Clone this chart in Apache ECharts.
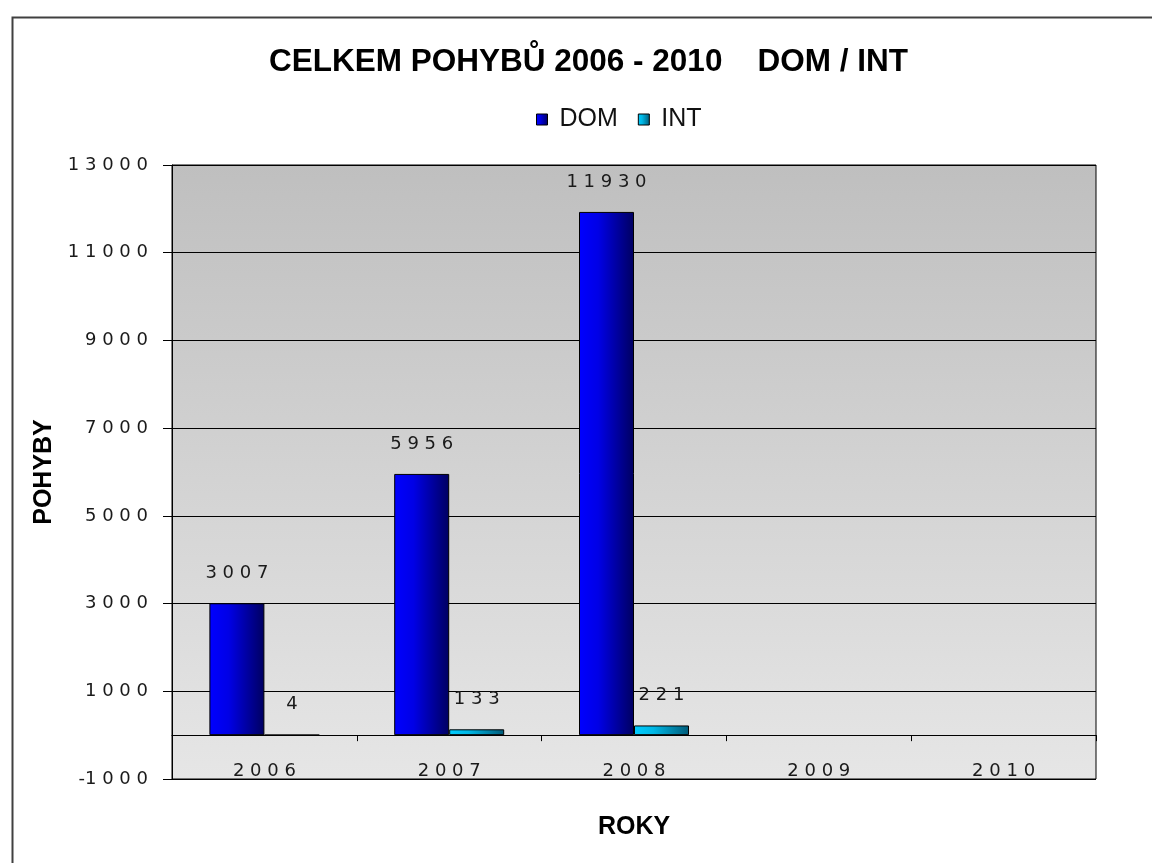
<!DOCTYPE html>
<html>
<head>
<meta charset="utf-8">
<script src="https://cdn.jsdelivr.net/npm/echarts@6/dist/echarts.min.js"></script>
<style>html,body{margin:0;padding:0;background:#fff}#c{width:1152px;height:863px}</style>
</head>
<body>
<div id="c"></div>
<script>
const categories = ['2006', '2007', '2008', '2009', '2010'];
const domValues = [3007, 5956, 11930, null, null];
const intValues = [4, 133, 221, null, null];
const seriesNames = ['DOM', 'INT'];
const titleText = 'CELKEM POHYBŮ 2006 - 2010    DOM / INT';

const spaced = s => String(s).replace(/^-/, '\u2212').split('').join(' ').replace(/^\u2212 /, '-');
const numFont = { fontFamily: 'DejaVu Sans', fontSize: 18, color: '#1a1a1a' };

const chart = echarts.init(document.getElementById('c'));
chart.setOption({
  animation: false,
  backgroundColor: '#ffffff',
  title: {
    text: titleText,
    left: 264,
    top: 41,
    textStyle: { fontFamily: 'Liberation Sans', fontWeight: 'bold', fontSize: 31.5, color: '#000' }
  },
  legend: {
    data: seriesNames,
    top: 102,
    left: 531,
    icon: 'rect',
    itemWidth: 11,
    itemHeight: 11,
    itemGap: 20,
    itemStyle: { borderColor: '#000', borderWidth: 1 },
    textStyle: { fontFamily: 'Liberation Sans', fontSize: 25, color: '#111', padding: [0, 0, 0, 7] }
  },
  graphic: [{
    type: 'rect', left: 10, top: 15, silent: true,
    shape: { width: 1200, height: 900 },
    style: { fill: 'none', stroke: '#404040', lineWidth: 2 }
  }],
  grid: {
    left: 172, right: 56, top: 165, bottom: 84,
    outerBoundsMode: 'none',
    containLabel: false,
    show: true,
    borderColor: '#000', borderWidth: 1,
    backgroundColor: new echarts.graphic.LinearGradient(0, 0, 0, 1, [
      { offset: 0, color: '#bfbfbf' },
      { offset: 1, color: '#e6e6e6' }
    ])
  },
  xAxis: {
    type: 'category',
    data: categories,
    name: 'ROKY',
    nameLocation: 'middle',
    nameGap: 36,
    nameTextStyle: { fontFamily: 'Liberation Sans', fontWeight: 'bold', fontSize: 25, color: '#000' },
    axisLine: { onZero: true, lineStyle: { color: '#000', width: 1 } },
    axisTick: { show: true, length: 6, lineStyle: { color: '#000' } },
    axisLabel: Object.assign({ margin: -17, formatter: v => spaced(v) }, numFont)
  },
  yAxis: {
    type: 'value',
    min: -1000, max: 13000, interval: 2000,
    name: 'POHYBY',
    nameLocation: 'middle',
    nameGap: 112,
    nameTextStyle: { fontFamily: 'Liberation Sans', fontWeight: 'bold', fontSize: 25, color: '#000' },
    axisLine: { show: true, lineStyle: { color: '#000' } },
    axisTick: { show: true, length: 9, lineStyle: { color: '#000' } },
    splitLine: { show: true, lineStyle: { color: '#000', width: 1 } },
    axisLabel: Object.assign({ margin: 24, formatter: v => spaced(v) }, numFont)
  },
  series: [
    {
      name: seriesNames[0], type: 'bar', data: domValues,
      barWidth: 55, barGap: '0%',
      itemStyle: {
        borderColor: '#000', borderWidth: 1,
        color: new echarts.graphic.LinearGradient(0, 0, 1, 0, [
          { offset: 0, color: '#0000ff' },
          { offset: 0.35, color: '#0000e6' },
          { offset: 1, color: '#000060' }
        ])
      },
      label: Object.assign({ show: true, position: 'top', distance: 21, formatter: p => spaced(p.value) }, numFont)
    },
    {
      name: seriesNames[1], type: 'bar', data: intValues,
      barWidth: 55, barGap: '0%',
      itemStyle: {
        borderColor: '#000', borderWidth: 1,
        color: new echarts.graphic.LinearGradient(0, 0, 1, 0, [
          { offset: 0, color: '#00ccff' },
          { offset: 0.35, color: '#00b8e6' },
          { offset: 1, color: '#005a78' }
        ])
      },
      label: Object.assign({ show: true, position: 'top', distance: 21, formatter: p => spaced(p.value) }, numFont)
    }
  ]
});
</script>
</body>
</html>
